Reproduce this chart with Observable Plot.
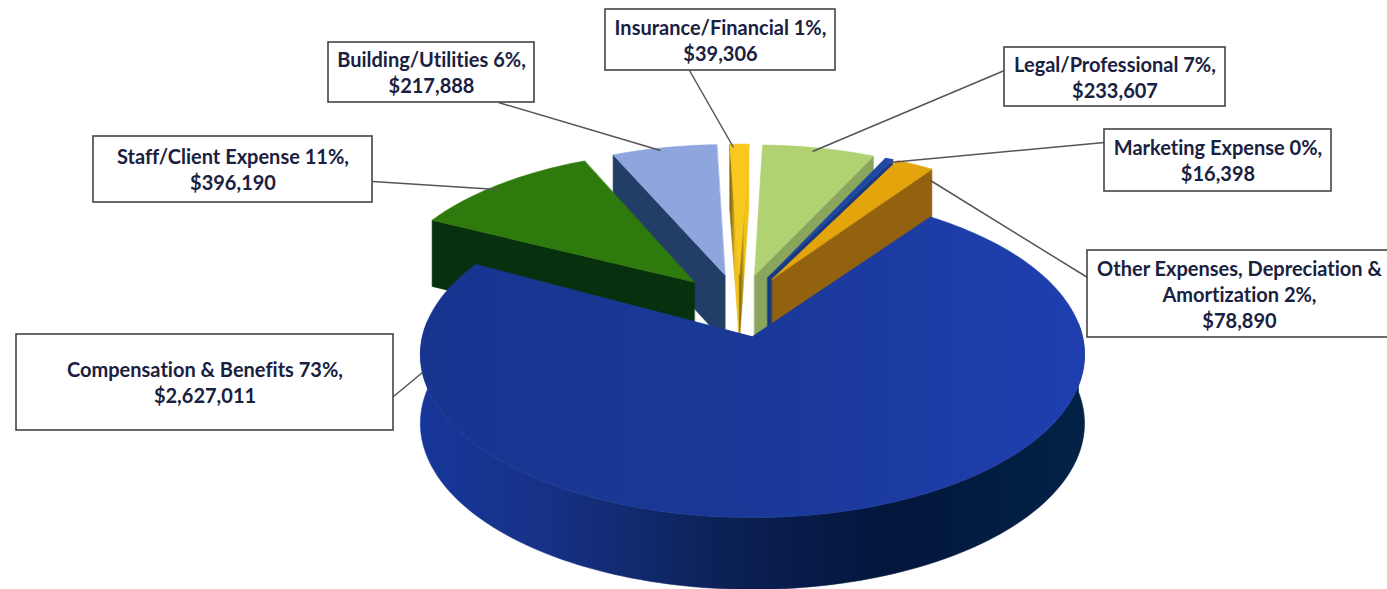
<!DOCTYPE html>
<html>
<head>
<meta charset="utf-8">
<script src="https://cdn.jsdelivr.net/npm/d3@7"></script>
<script src="https://cdn.jsdelivr.net/npm/@observablehq/plot@0.6"></script>
<style>
  html, body { margin: 0; padding: 0; background: #fff; overflow: hidden; }
  svg { display: block; }
  svg text { font-variant-ligatures: none; }
</style>
</head>
<body>
<div id="chart"></div>
<script>
// Expense categories, in the order they run clockwise around the pie.
const categories = [
  "Compensation & Benefits",
  "Staff/Client Expense",
  "Building/Utilities",
  "Insurance/Financial",
  "Legal/Professional",
  "Marketing Expense",
  "Other Expenses, Depreciation &\nAmortization"
];
const amounts = [2627011, 396190, 217888, 39306, 233607, 16398, 78890];
const percents = [73, 11, 6, 1, 7, 0, 2];

const topColors = ["url(#compTop)", "#2f7a0c", "#8ea6dd", "#f8c81e", "#b1d272", "#1f47a4", "#e4a50c"];
const faceColors = ["#0d2560", "#07300f", "#233e66", "url(#insWall)", "#8aa55c", "#19397f", "#93620f"];

// Label boxes: left, right, top, bottom.
const boxes = [
  [16, 393, 334, 430],
  [93, 372, 136, 202],
  [328, 534, 42, 102],
  [605, 835, 9, 70],
  [1004, 1225, 47, 106],
  [1104, 1331, 129, 191],
  [1087, 1392, 250, 337]
];
// Leader lines: from the box edge to the slice.
const leaders = [
  [393, 396, 422, 372],
  [372, 181, 497, 189],
  [498, 102, 660, 150],
  [689, 70, 733, 147],
  [1004, 70, 812, 151],
  [1104, 142, 889, 162],
  [1087, 277, 930, 180]
];

// Pie projection: a unit disc seen in perspective, with every slice pulled out
// of a shared centre by the same amount.
const view = {x0: 752, y0: 336, a: 330, b: 161, k: 0.111, depth: 68.5};
const startAngle = 36;
const centre = {u: -0.046, v: -0.199};
const explode = 0.204;
// The detached slices sit slightly smaller and turned back against the main one.
const detached = {radius: 0.975, turn: -1.5};

const rad = (deg) => (deg * Math.PI) / 180;
const project = (u, v, lower = false) => {
  const s = 1 / (1 - view.k * v);
  return {
    x: view.x0 + view.a * u * s,
    y: view.y0 + view.b * v * s + (lower ? view.depth * Math.pow(s, 0.4) : 0)
  };
};

const total = d3.sum(amounts);
let running = startAngle;
const slices = amounts.map((value, i) => {
  const a0 = running;
  const a1 = (running += (value / total) * 360);
  const mid = rad((a0 + a1) / 2);
  const au = centre.u + explode * Math.sin(mid);
  const av = centre.v - explode * Math.cos(mid);
  const r = i === 0 ? 1 : detached.radius;
  const turn = i === 0 ? 0 : detached.turn;
  const n = Math.max(2, Math.ceil((a1 - a0) / 1.5));
  const arc = d3.range(n + 1).map((j) => {
    const deg = a0 + ((a1 - a0) * j) / n;
    const t = rad(deg + turn);
    return {u: au + r * Math.sin(t), v: av - r * Math.cos(t), deg};
  });
  return {i, au, av, arc};
});

// d3.polygonArea is positive for clockwise rings in screen space.
const area = (p) => d3.polygonArea(p.map((d) => [d.x, d.y]));

// Faces of one slice, drawn back to front with the top surface last.
function sliceMarks(s) {
  const marks = [];
  const push = (pts, fill) =>
    marks.push(Plot.line(pts, {x: "x", y: "y", fill, stroke: fill, strokeWidth: 0.6, curve: "linear-closed"}));
  const face = (o) => [
    project(s.au, s.av), project(o.u, o.v),
    project(o.u, o.v, true), project(s.au, s.av, true)
  ];
  const first = face(s.arc[0]);
  const last = face(s.arc[s.arc.length - 1]);
  if (area(first) > 0) push(first, faceColors[s.i]);
  if (area(last) < 0) push(last, faceColors[s.i]);
  const front = s.arc.filter((d) => d.deg > 84 && d.deg < 276);
  if (front.length > 1) {
    push(
      [...front.map((d) => project(d.u, d.v)), ...front.slice().reverse().map((d) => project(d.u, d.v, true))],
      s.i === 0 ? "url(#compWall)" : faceColors[s.i]
    );
  }
  push([project(s.au, s.av), ...s.arc.map((d) => project(d.u, d.v))], topColors[s.i]);
  return marks;
}

const gradients = () =>
  d3.create("svg:defs").html(`
    <linearGradient id="compTop" gradientUnits="userSpaceOnUse" x1="421" y1="0" x2="1085" y2="0">
      <stop offset="0" stop-color="#17358f"/>
      <stop offset="0.5" stop-color="#1a3897"/>
      <stop offset="1" stop-color="#1f3fb0"/>
    </linearGradient>
    <linearGradient id="compWall" gradientUnits="userSpaceOnUse" x1="421" y1="0" x2="1085" y2="0">
      <stop offset="0" stop-color="#17369a"/>
      <stop offset="0.2" stop-color="#163184"/>
      <stop offset="0.45" stop-color="#0c2156"/>
      <stop offset="0.7" stop-color="#03163c"/>
      <stop offset="1" stop-color="#022246"/>
    </linearGradient>
    <linearGradient id="insWall" x1="0" y1="0" x2="1" y2="0">
      <stop offset="0" stop-color="#7d6310"/>
      <stop offset="0.3" stop-color="#b08a14"/>
      <stop offset="0.55" stop-color="#efc01c"/>
      <stop offset="1" stop-color="#f4c41d"/>
    </linearGradient>`).node();

const drawOrder = [3, 2, 4, 5, 6, 1, 0];

const labels = categories.map((name, i) => ({
  text: `${name} ${percents[i]}%,\n${d3.format("$,")(amounts[i])}`,
  x: (boxes[i][0] + Math.min(boxes[i][1], 1387)) / 2 + (i === 6 ? 2 : 0),
  y: (boxes[i][2] + boxes[i][3]) / 2
}));

const chart = Plot.plot({
  width: 1387,
  height: 589,
  margin: 0,
  x: {domain: [0, 1387], range: [0, 1387], axis: null},
  y: {domain: [0, 589], range: [0, 589], axis: null},
  marks: [
    gradients,
    ...drawOrder.flatMap((i) => sliceMarks(slices[i])),
    Plot.link(leaders, {x1: "0", y1: "1", x2: "2", y2: "3", stroke: "#555", strokeWidth: 1.5}),
    Plot.rect(boxes, {x1: "0", x2: "1", y1: "2", y2: "3", fill: "#fff", stroke: "#444", strokeWidth: 1.6}),
    Plot.text(labels, {
      x: "x", y: "y", text: "text", dy: -0.5,
      fontFamily: "Lato", fontWeight: 700, fontSize: 20, lineHeight: 1.3,
      fill: "#1a2140", textAnchor: "middle"
    })
  ]
});
document.getElementById("chart").append(chart);
</script>
</body>
</html>
